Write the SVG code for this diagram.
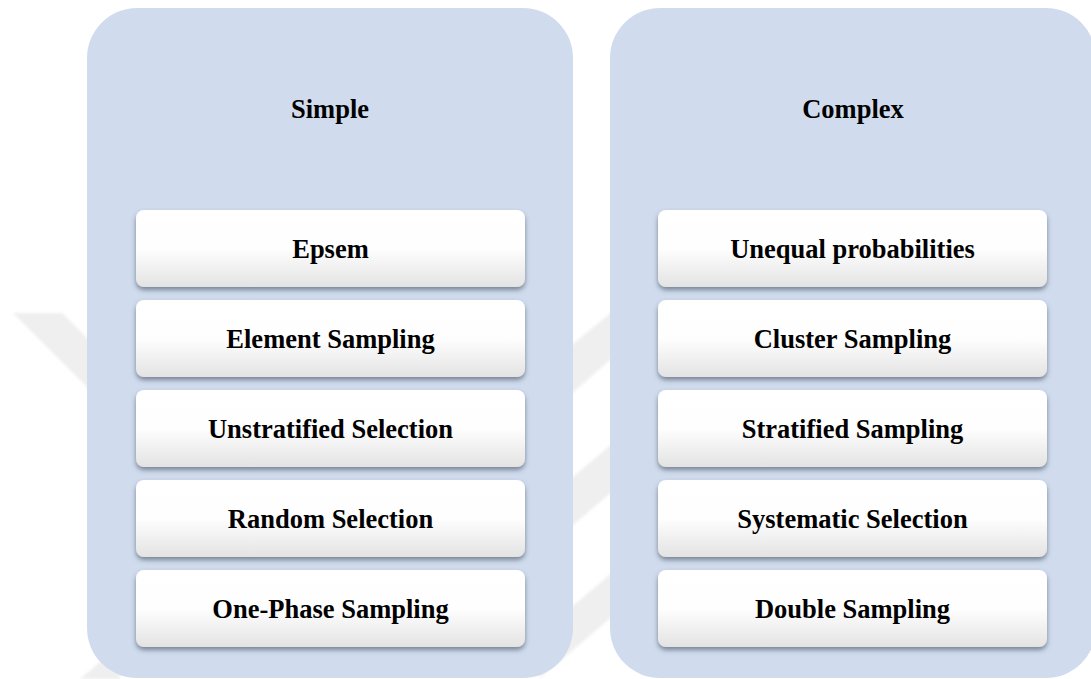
<svg xmlns="http://www.w3.org/2000/svg" width="1091" height="679" viewBox="0 0 1091 679">
  <defs>
    <linearGradient id="boxFill" x1="0" y1="0" x2="0" y2="1">
      <stop offset="0" stop-color="#ffffff"/>
      <stop offset="0.5" stop-color="#fefefe"/>
      <stop offset="1" stop-color="#e3e3e3"/>
    </linearGradient>
    <filter id="boxShadow" x="-10%" y="-20%" width="120%" height="150%">
      <feDropShadow dx="0" dy="3" stdDeviation="2.4" flood-color="#3e4858" flood-opacity="0.6"/>
    </filter>
    <filter id="soft" x="-10%" y="-10%" width="120%" height="120%">
      <feGaussianBlur stdDeviation="1.5"/>
    </filter>
  </defs>
  <style>
    .panel { fill: #d0dcee; }
    .box { fill: url(#boxFill); filter: url(#boxShadow); }
    .label { font-family: "Liberation Serif", "Times New Roman", serif; font-weight: bold; font-size: 26.5px; fill: #000; text-anchor: middle; }
    .mark { fill: #efefef; }
  </style>

  <rect width="1091" height="679" fill="#ffffff"/>

  <!-- faint background emblem -->
  <g id="emblem" filter="url(#soft)">
    <polygon class="mark" points="13,313 62,313 100,351 100,400"/>
    <polygon class="mark" points="540,371 640,289 640,334 540,421"/>
    <polygon class="mark" points="540,505 640,420 640,468 540,553"/>
    <polygon class="mark" points="540,634 640,549 640,593 540,678"/>
    <polygon class="mark" points="80,679 120,645 120,679"/>
  </g>

  <!-- Simple column -->
  <g id="simple">
    <rect class="panel" x="87" y="8" width="486" height="670" rx="50" ry="50"/>
    <text class="label" x="330" y="118">Simple</text>
  </g>
  <g id="epsem">
    <rect class="box" x="136" y="210" width="389" height="77" rx="8"/>
    <text class="label" x="330.5" y="258">Epsem</text>
  </g>
  <g id="element-sampling">
    <rect class="box" x="136" y="300" width="389" height="77" rx="8"/>
    <text class="label" x="330.5" y="348">Element Sampling</text>
  </g>
  <g id="unstratified-selection">
    <rect class="box" x="136" y="390" width="389" height="77" rx="8"/>
    <text class="label" x="330.5" y="438">Unstratified Selection</text>
  </g>
  <g id="random-selection">
    <rect class="box" x="136" y="480" width="389" height="77" rx="8"/>
    <text class="label" x="330.5" y="528">Random Selection</text>
  </g>
  <g id="one-phase-sampling">
    <rect class="box" x="136" y="570" width="389" height="77" rx="8"/>
    <text class="label" x="330.5" y="618">One-Phase Sampling</text>
  </g>

  <!-- Complex column -->
  <g id="complex">
    <rect class="panel" x="610" y="8" width="486" height="670" rx="50" ry="50"/>
    <text class="label" x="853" y="118">Complex</text>
  </g>
  <g id="unequal-probabilities">
    <rect class="box" x="658" y="210" width="389" height="77" rx="8"/>
    <text class="label" x="852.5" y="258">Unequal probabilities</text>
  </g>
  <g id="cluster-sampling">
    <rect class="box" x="658" y="300" width="389" height="77" rx="8"/>
    <text class="label" x="852.5" y="348">Cluster Sampling</text>
  </g>
  <g id="stratified-sampling">
    <rect class="box" x="658" y="390" width="389" height="77" rx="8"/>
    <text class="label" x="852.5" y="438">Stratified Sampling</text>
  </g>
  <g id="systematic-selection">
    <rect class="box" x="658" y="480" width="389" height="77" rx="8"/>
    <text class="label" x="852.5" y="528">Systematic Selection</text>
  </g>
  <g id="double-sampling">
    <rect class="box" x="658" y="570" width="389" height="77" rx="8"/>
    <text class="label" x="852.5" y="618">Double Sampling</text>
  </g>
</svg>
